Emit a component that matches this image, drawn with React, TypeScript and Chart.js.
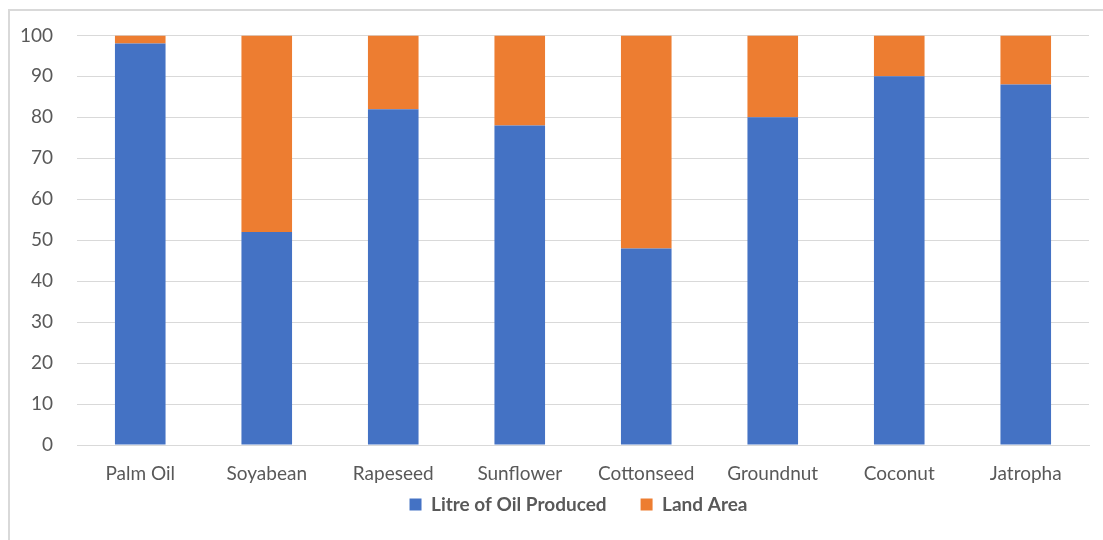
import React, { useEffect, useRef } from "react";
import { Chart, registerables } from "chart.js";

Chart.register(...registerables);

const categories = ["Palm Oil", "Soyabean", "Rapeseed", "Sunflower", "Cottonseed", "Groundnut", "Coconut", "Jatropha"];
const litreOfOil = [98, 52, 82, 78, 48, 80, 90, 88];
const landArea = [2, 48, 18, 22, 52, 20, 10, 12];
const seriesNames = ["Litre of Oil Produced", "Land Area"];

const FONT = "Lato, 'Open Sans', sans-serif";
const TEXT = "#595959";
const GRID = "#d9d9d9";

const framePlugin = {
  id: "frame",
  afterLayout(chart: any) {
    const lg = chart.legend;
    if (lg) {
      const h = lg.height;
      lg.top = 461;
      lg.bottom = 461 + h;
      lg.left += 34;
      lg.right += 34;
    }
  },
  beforeDraw(chart: any) {
    const ctx = chart.ctx;
    ctx.save();
    ctx.fillStyle = "#ffffff";
    ctx.fillRect(0, 0, chart.width, chart.height);
    ctx.strokeStyle = GRID;
    ctx.lineWidth = 2;
    ctx.beginPath();
    ctx.moveTo(9, chart.height);
    ctx.lineTo(9, 10);
    ctx.lineTo(chart.width, 10);
    ctx.stroke();
    ctx.restore();
  },
};

export default function App() {
  const ref = useRef<HTMLCanvasElement | null>(null);
  useEffect(() => {
    if (!ref.current) return;
    const chart = new Chart(ref.current, {
      type: "bar",
      data: {
        labels: categories,
        datasets: [
          {
            label: seriesNames[0],
            data: litreOfOil,
            backgroundColor: "#4472C4",
            borderWidth: 0,
            barPercentage: 0.4,
            categoryPercentage: 1,
          },
          {
            label: seriesNames[1],
            data: landArea,
            backgroundColor: "#ED7D31",
            borderWidth: 0,
            barPercentage: 0.4,
            categoryPercentage: 1,
          },
        ],
      },
      options: {
        responsive: false,
        maintainAspectRatio: false,
        animation: false,
        layout: { padding: { top: 33, right: 14, left: 0, bottom: 0 } },
        plugins: {
          legend: {
            position: "bottom",
            maxHeight: 50,
            labels: {
              font: { family: FONT, size: 19, weight: "bold" },
              color: TEXT,
              boxWidth: 12,
              boxHeight: 12,
              padding: 34,
            },
          },
          tooltip: { enabled: false },
        },
        scales: {
          x: {
            stacked: true,
            grid: { display: false, drawTicks: false },
            border: { color: GRID, width: 1 },
            ticks: {
              font: { family: FONT, size: 19 },
              color: TEXT,
              padding: 17,
              maxRotation: 0,
              autoSkip: false,
            },
            afterFit(scale: any) {
              scale.height = 45;
            },
          },
          y: {
            stacked: true,
            min: 0,
            max: 100,
            grid: { color: GRID, drawTicks: false },
            border: { display: false },
            ticks: {
              stepSize: 10,
              font: { family: FONT, size: 19 },
              color: TEXT,
              padding: 24,
            },
            afterFit(scale: any) {
              scale.width = 77;
            },
          },
        },
      },
      plugins: [framePlugin],
    });
    return () => chart.destroy();
  }, []);
  return (
    <div style={{ position: "fixed", left: 0, top: 0, width: 1103, height: 540, background: "#fff" }}>
      <canvas ref={ref} width={1103} height={540} style={{ display: "block" }} />
    </div>
  );
}
